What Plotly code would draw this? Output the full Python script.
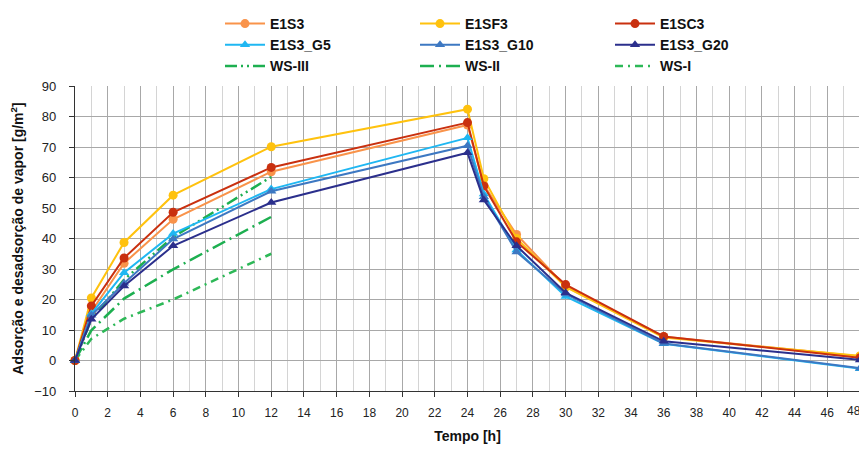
import plotly.graph_objects as go

t_full = [0, 1, 3, 6, 12, 24, 25, 27, 30, 36, 48]
t_ws = [0, 1, 3, 6, 12]

E1S3 = [0, 16.0, 31.9, 46.3, 61.9, 77.2, 57.5, 41.3, 24.3, 7.8, 1.4]
E1SF3 = [0, 20.5, 38.7, 54.2, 70.1, 82.4, 59.6, 40.0, 24.1, 7.5, 1.5]
E1SC3 = [0, 17.9, 33.6, 48.6, 63.3, 78.0, 57.2, 38.9, 24.9, 7.9, 0.9]
E1S3_G5 = [0, 15.3, 28.8, 41.6, 56.2, 73.0, 54.6, 36.2, 21.0, 5.5, -2.7]
E1S3_G10 = [0, 14.8, 25.3, 39.8, 55.5, 70.4, 53.7, 35.6, 21.8, 5.6, -2.5]
E1S3_G20 = [0, 13.5, 24.4, 37.6, 51.8, 68.1, 52.6, 37.6, 22.2, 6.3, 0.2]

WS_III = [0, 13.5, 26.5, 40.5, 60.2]
WS_II = [0, 9.9, 20.3, 29.9, 47.1]
WS_I = [0, 7.1, 13.7, 20.0, 35.0]

x_ticks = list(range(0, 49, 2))
x_ticktext = [str(v) for v in x_ticks[:-1]] + [""]   # last label drawn right-aligned below
x_last = x_ticks[-1]
y_ticks = list(range(-10, 91, 10))

fig = go.Figure()

def add(name, y, color, symbol, legend, rank, x=t_full):
    fig.add_trace(go.Scatter(
        x=x, y=y, name=name, mode="lines+markers",
        line=dict(color=color, width=2),
        marker=dict(symbol=symbol, size=9, color=color),
        legend=legend, legendrank=rank, cliponaxis=False))

def add_ws(name, y, color, dash, legend, rank):
    fig.add_trace(go.Scatter(
        x=t_ws, y=y, name=name, mode="lines",
        line=dict(color=color, width=2.5, dash=dash),
        legend=legend, legendrank=rank))

# WS lines beneath the measured series
add_ws("WS-III", WS_III, "#1DAF50", "12px,4px,2px,4px,2px,4px", "legend", 3)
add_ws("WS-II", WS_II, "#1DAF50", "14px,5px,2px,5px", "legend2", 3)
add_ws("WS-I", WS_I, "#2DB857", "8px,5px,2px,5px", "legend3", 3)

add("E1S3", E1S3, "#F9934A", "circle", "legend", 1)
add("E1SF3", E1SF3, "#FFC20E", "circle", "legend2", 1)
add("E1SC3", E1SC3, "#C9300F", "circle", "legend3", 1)
add("E1S3_G5", E1S3_G5, "#1FB7F2", "triangle-up", "legend", 2)
add("E1S3_G10", E1S3_G10, "#3D78C2", "triangle-up", "legend2", 2)
add("E1S3_G20", E1S3_G20, "#2B2F8C", "triangle-up", "legend3", 2)

leg_common = dict(
    orientation="v", yanchor="top", y=1.0, yref="container", xref="paper",
    xanchor="left", bgcolor="rgba(0,0,0,0)",
    font=dict(family="Liberation Sans, Arial", size=14, color="#111", weight="bold"),
    tracegroupgap=0, itemwidth=40, traceorder="normal")

narrow = "Liberation Sans Narrow, Arial Narrow, Liberation Sans"

fig.add_annotation(
    x=x_last, xref="x", y=0, yref="paper", text=str(x_last), showarrow=False,
    xanchor="right", yanchor="middle", xshift=3, yshift=-20,
    font=dict(family=narrow, size=12, color="#222"))

# page body adds an 8px offset; figure sized to fill the remaining window
fig.update_layout(
    width=859, height=444,
    paper_bgcolor="white", plot_bgcolor="white",
    margin=dict(l=67, r=7, t=78, b=61, autoexpand=False),
    font=dict(family=narrow, size=13, color="#222"),
    legend=dict(leg_common, x=145 / 785),
    legend2=dict(leg_common, x=340 / 785),
    legend3=dict(leg_common, x=535 / 785),
    xaxis=dict(
        range=[0, 48], tickvals=x_ticks, ticktext=x_ticktext,
        showgrid=True, gridcolor="#A8A8A8", gridwidth=1.3,
        minor=dict(dtick=1, tick0=0, showgrid=True, gridcolor="#D4D4D4", gridwidth=1),
        showline=True, linecolor="#333", linewidth=1.2, mirror=False,
        ticks="outside", ticklen=5, tickcolor="#333",
        ticklabelstandoff=5,
        zeroline=False, automargin=False,
        title=dict(text="Tempo [h]", standoff=12,
                   font=dict(family=narrow, size=14, color="#111", weight="bold")),
        tickfont=dict(size=12, color="#222"),
    ),
    yaxis=dict(
        range=[-10, 90], tickvals=y_ticks,
        showgrid=True, gridcolor="#A8A8A8", gridwidth=1.3,
        showline=True, linecolor="#333", linewidth=1.2,
        ticks="outside", ticklen=5, tickcolor="#333",
        ticklabelstandoff=10,
        zeroline=False, automargin=False,
        title=dict(text="Adsorção e desadsorção de vapor [g/m<sup>2</sup>]", standoff=8,
                   font=dict(family="Liberation Sans, Arial", size=14, color="#111", weight="bold")),
        tickfont=dict(size=13, color="#222"),
    ),
)

fig.write_html("out.html")
